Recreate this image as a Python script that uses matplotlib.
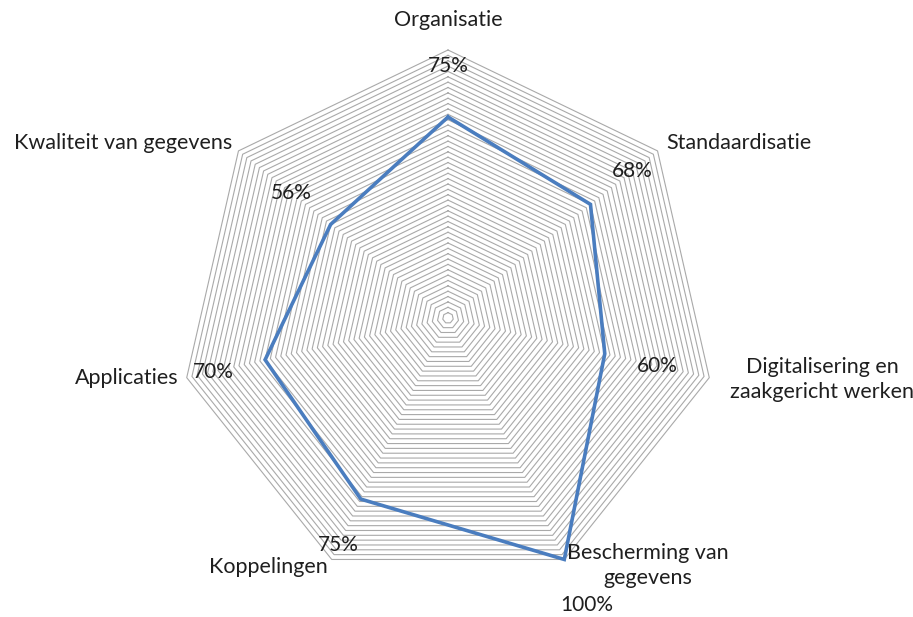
import numpy as np
import matplotlib
matplotlib.use("Agg")
import matplotlib.pyplot as plt

# data
categories = ["Organisatie", "Standaardisatie", "Digitalisering en\nzaakgericht werken",
              "Bescherming van\ngegevens", "Koppelingen", "Applicaties", "Kwaliteit van gegevens"]
values = [0.75, 0.68, 0.60, 1.00, 0.75, 0.70, 0.56]
value_labels = ["75%", "68%", "60%", "100%", "75%", "70%", "56%"]

# layout
W, H = 913, 617
cx, cy, R = 448, 318, 268          # centre and outer radius in pixels
n = len(categories)
ang = np.pi / 2 - np.arange(n) * 2 * np.pi / n

plt.rcParams['font.family'] = ['Lato', 'DejaVu Sans']
fig = plt.figure(figsize=(W / 100, H / 100), dpi=100)
ax = fig.add_axes([0, 0, 1, 1])
ax.set_xlim(-cx / R, (W - cx) / R)
ax.set_ylim(-(H - cy) / R, cy / R)
ax.axis('off')

# rings every 2%
for r in np.arange(0.02, 1.0001, 0.02):
    rr = np.append(np.full(n, r), r)
    aa = np.append(ang, ang[0])
    ax.plot(rr * np.cos(aa), rr * np.sin(aa), color='#a9a9a9', lw=0.8, zorder=1)

# series
v = np.append(values, values[0])
aa = np.append(ang, ang[0])
ax.plot(v * np.cos(aa), v * np.sin(aa), color='#4a7dbf', lw=2.6, zorder=3,
        solid_joinstyle='miter')

# data labels
lab_r = [0.94, 0.88, 0.80, 1.19, 0.94, 0.90, 0.75]
for a, r, t in zip(ang, lab_r, value_labels):
    ax.text(r * np.cos(a), r * np.sin(a), t, ha='center', va='center',
            fontsize=15, color='#1f1f1f', zorder=4)

# category labels
cat_pos = [(0.0, 1.112, 'center'), (0.813, 0.653, 'left'), (1.396, -0.228, 'center'),
           (0.746, -0.924, 'center'), (-0.672, -0.929, 'center'),
           (-1.198, -0.224, 'center'), (-1.213, 0.653, 'center')]
for (x, y, ha), t in zip(cat_pos, categories):
    ax.text(x, y, t, ha=ha, va='center', multialignment='center',
            fontsize=15.5, color='#1f1f1f', linespacing=1.3, zorder=4)

fig.savefig("out.png", dpi=100)
